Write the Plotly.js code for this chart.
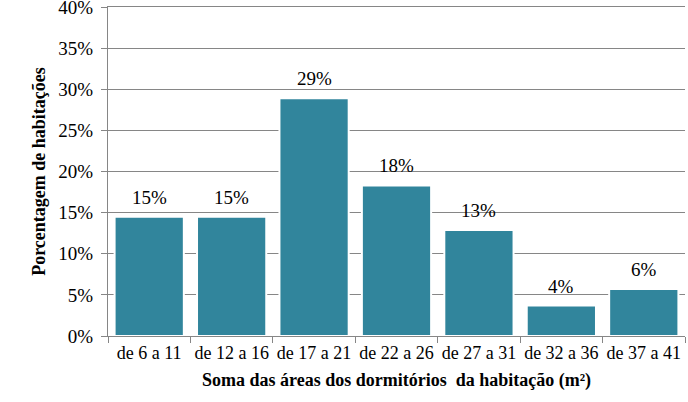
<!DOCTYPE html>
<html>
<head>
<meta charset="utf-8">
<script src="https://cdn.plot.ly/plotly-3.0.1.min.js"></script>
<style>html,body{margin:0;padding:0;background:#fff;}#chart{width:688px;height:402px;}</style>
</head>
<body>
<div id="chart"></div>
<script>
const categories = ["de 6 a 11", "de 12 a 16", "de 17 a 21", "de 22 a 26", "de 27 a 31", "de 32 a 36", "de 37 a 41"];
const values = [14.5, 14.5, 28.9, 18.3, 12.9, 3.7, 5.7];
const valueLabels = ["15%", "15%", "29%", "18%", "13%", "4%", "6%"];
const yTickValues = [0, 5, 10, 15, 20, 25, 30, 35, 40];
const yTickLabels = ["0%", "5%", "10%", "15%", "20%", "25%", "30%", "35%", "40%"];

const serif = "Liberation Serif";

const trace = {
  type: "bar",
  x: categories,
  y: values,
  marker: {color: "#31859C", line: {color: "#ffffff", width: 2}},
  hoverinfo: "none"
};

const annotations = categories.map((c, i) => ({
  x: c, y: values[i], xref: "x", yref: "y",
  text: valueLabels[i], showarrow: false,
  yanchor: "bottom", yshift: 7,
  font: {family: serif, size: 19, color: "#000"}
}));

const layout = {
  width: 688, height: 402,
  margin: {l: 108, r: 3, t: 7, b: 66},
  paper_bgcolor: "#fff", plot_bgcolor: "#fff",
  bargap: 0.16,
  showlegend: false,
  font: {family: serif, color: "#000"},
  annotations: annotations,
  xaxis: {
    type: "category",
    tickson: "boundaries",
    tickangle: 0,
    ticks: "outside", ticklen: 6, tickcolor: "#868686",
    showline: true, mirror: true, linecolor: "#868686", linewidth: 1,
    showgrid: false,
    tickfont: {family: serif, size: 18, color: "#000"},
    title: {text: "Soma das áreas dos dormitórios  da habitação (m²)", font: {family: serif, size: 18, color: "#000", weight: "bold"}, standoff: 11},
    automargin: false
  },
  yaxis: {
    range: [0, 40],
    tickvals: yTickValues, ticktext: yTickLabels,
    ticks: "outside", ticklen: 6, tickcolor: "#868686",
    showline: true, linecolor: "#868686", linewidth: 1,
    showgrid: true, gridcolor: "#868686", gridwidth: 1,
    zeroline: false,
    ticklabelstandoff: 4,
    ticklabeloverflow: "allow",
    tickfont: {family: serif, size: 19, color: "#000"},
    title: {text: "Porcentagem de habitações", font: {family: serif, size: 18, color: "#000", weight: "bold"}, standoff: 8},
    automargin: false
  }
};

Plotly.newPlot("chart", [trace], layout, {displayModeBar: false, staticPlot: true});
</script>
</body>
</html>
